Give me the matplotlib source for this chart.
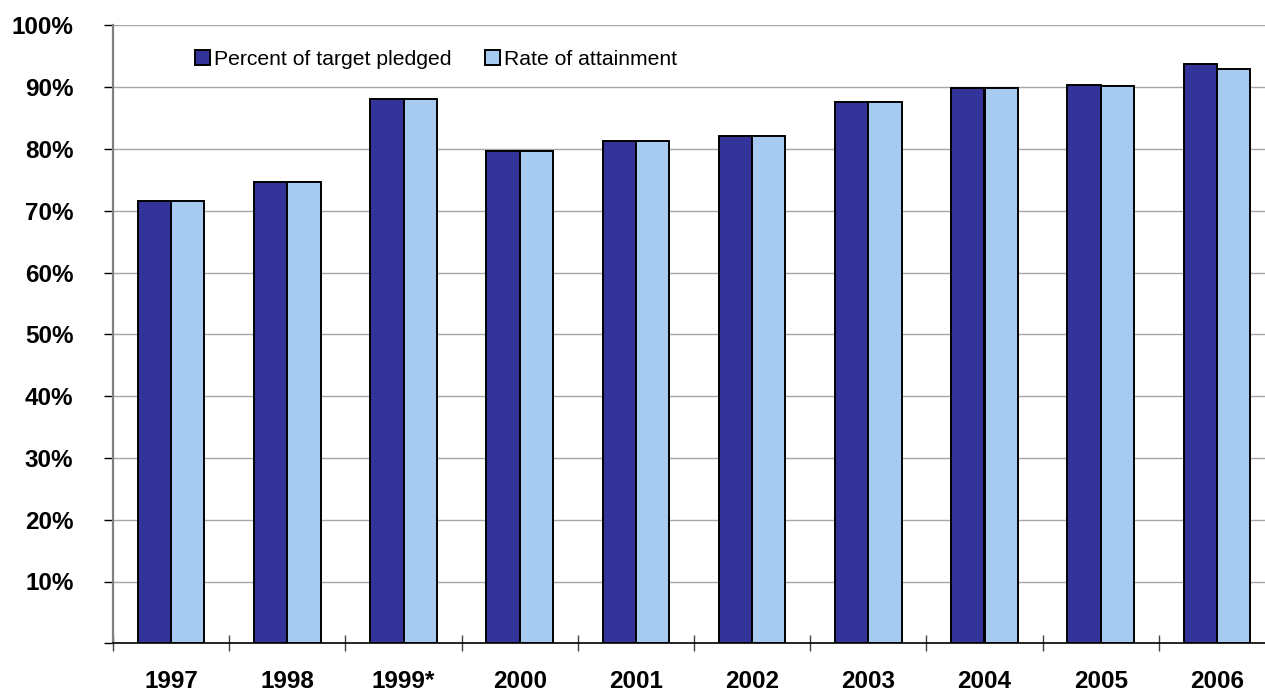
"""Bar chart: percent of target pledged vs. rate of attainment, 1997-2006."""

import matplotlib

matplotlib.use("Agg")
import matplotlib.pyplot as plt
import numpy as np
from matplotlib.ticker import FixedLocator, FuncFormatter

years = ["1997", "1998", "1999*", "2000", "2001", "2002", "2003", "2004", "2005", "2006"]
pledged = [71.5, 74.6, 88.0, 79.7, 81.3, 82.1, 87.6, 89.9, 90.3, 93.7]
attainment = [71.5, 74.6, 88.0, 79.7, 81.3, 82.1, 87.6, 89.8, 90.1, 93.0]

DARK = "#333399"
LIGHT = "#A6CAF0"

plt.rcParams["font.family"] = ["Liberation Sans", "DejaVu Sans"]

fig = plt.figure(figsize=(12.65, 6.91), dpi=100)
ax = fig.add_axes([113 / 1265, 47.7 / 691, 1162 / 1265, 618 / 691])

x = np.arange(len(years))
w = 0.287
ax.bar(x - w / 2, pledged, w, color=DARK, edgecolor="black", linewidth=1.4,
       label="Percent of target pledged", zorder=3)
ax.bar(x + w / 2, attainment, w, color=LIGHT, edgecolor="black", linewidth=1.4,
       label="Rate of attainment", zorder=3)

ax.set_xlim(-0.5, len(years) - 0.5)
ax.set_ylim(0, 100)

ax.yaxis.set_major_locator(FixedLocator(np.arange(0, 101, 10)))
ax.yaxis.set_major_formatter(FuncFormatter(lambda v, _: f"{v:.0f}%" if v > 0 else ""))
ax.grid(axis="y", color="#a6a6a6", linewidth=1.0, zorder=0)

ax.set_xticks(x)
ax.set_xticklabels(years)
ax.set_xticks(np.arange(-0.5, len(years), 1.0), minor=True)
ax.tick_params(axis="x", which="major", length=0, pad=19)
ax.tick_params(axis="x", which="minor", direction="inout", length=11.5, width=1.0,
               color="#404040")
ax.tick_params(axis="y", direction="out", length=6.5, width=1.0, color="black", pad=22)

for lab in ax.get_xticklabels() + ax.get_yticklabels():
    lab.set_fontsize(17.5)
    lab.set_fontweight("bold")

for side in ("top", "right"):
    ax.spines[side].set_visible(False)
ax.spines["left"].set_color("#808080")
ax.spines["left"].set_linewidth(1.6)
ax.spines["bottom"].set_color("black")
ax.spines["bottom"].set_linewidth(1.2)

ax.legend(loc="upper left", bbox_to_anchor=(195 / 1265, 1 - 50 / 691),
          bbox_transform=fig.transFigure, ncol=2, frameon=False, fontsize=15.2,
          handlelength=0.7, handleheight=0.7, handletextpad=0.2,
          columnspacing=1.6, borderaxespad=0, borderpad=0)

fig.savefig("out.png", dpi=100)
